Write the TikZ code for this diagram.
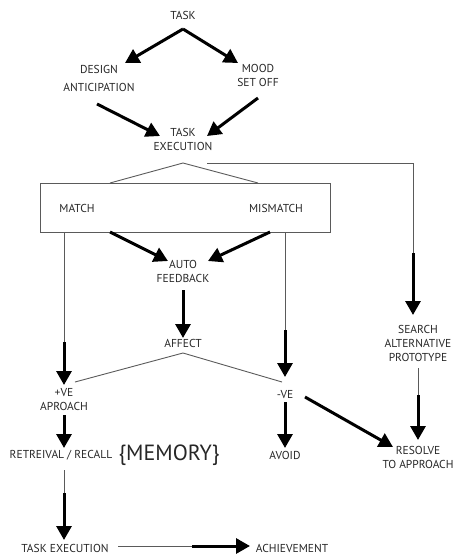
\documentclass[tikz,border=0pt]{standalone}
\usepackage{fontspec}
\setmainfont{PT Sans}
\usetikzlibrary{arrows.meta}
\definecolor{txt}{HTML}{262626}
\definecolor{ln}{HTML}{5a5a5a}
\begin{document}
\begin{tikzpicture}[x=1pt,y=-1pt,
 lbl/.style={font=\fontsize{11.5}{14}\selectfont, text=txt, align=center, inner sep=0pt},
 thinln/.style={draw=ln, line width=0.9pt},
 arr/.style={draw=black, line width=3pt, -{Triangle[length=14pt,width=15pt]}},
]
\useasboundingbox (0,0) rectangle (455,555);
% nodes
\node[lbl] (task) at (183,15) {TASK};
\node[lbl, font=\fontsize{11.5}{18}\selectfont] (design) at (99,78) {DESIGN\\ANTICIPATION};
\node[lbl] (mood) at (258,75) {MOOD\\SET OFF};
\node[lbl] (exec) at (183,139) {TASK\\EXECUTION};
\node[draw=ln, line width=0.9pt, minimum width=290pt, minimum height=49pt, inner sep=0pt] (box) at (185,207.5) {};
\node[lbl] (match) at (77,208) {MATCH};
\node[lbl] (mismatch) at (276,208) {MISMATCH};
\node[lbl] (auto) at (183,271) {AUTO\\FEEDBACK};
\node[lbl] (affect) at (183,343) {AFFECT};
\node[lbl] (pos) at (64,400) {+VE\\APROACH};
\node[lbl] (neg) at (285,395) {-VE};
\node[lbl] (recall) at (61,455) {RETREIVAL / RECALL};
\node[lbl, font=\fontsize{22}{22}\selectfont] (memory) at (169,455) {\{MEMORY\}};
\node[lbl] (avoid) at (285,455) {AVOID};
\node[lbl] (search) at (418,343) {SEARCH\\ALTERNATIVE\\PROTOTYPE};
\node[lbl] (resolve) at (418,457) {RESOLVE\\TO APPROACH};
\node[lbl] (exec2) at (65,548) {TASK EXECUTION};
\node[lbl] (ach) at (292,548) {ACHIEVEMENT};
% connector points
\coordinate (taskS) at (183,29);
\coordinate (designIn) at (125,63);
\coordinate (moodIn) at (238,63);
\coordinate (designOut) at (97,104);
\coordinate (moodOut) at (258,98);
\coordinate (execInL) at (160,136);
\coordinate (execInR) at (207,136);
\coordinate (apex) at (183,163);
\coordinate (boxTL) at (110,183);
\coordinate (boxTR) at (258,183);
\coordinate (execR) at (207,163);
\coordinate (corner) at (413,163);
\coordinate (sBreak) at (413,253);
\coordinate (searchIn) at (413,315);
\coordinate (matchOut) at (110,232);
\coordinate (mismatchOut) at (270,232);
\coordinate (autoInL) at (168,261);
\coordinate (autoInR) at (208,261);
\coordinate (autoOut) at (183,290);
\coordinate (affectIn) at (183,338);
\coordinate (affApex) at (183,353);
\coordinate (affL) at (75,382);
\coordinate (affR) at (282,382);
\coordinate (mDown) at (64,232);
\coordinate (mBreak) at (64,342);
\coordinate (posIn) at (64,385);
\coordinate (mmDown) at (285,232);
\coordinate (mmBreak) at (285,330);
\coordinate (negIn) at (285,377);
\coordinate (posOut) at (64,415);
\coordinate (recallIn) at (64,448);
\coordinate (negOut) at (285,402);
\coordinate (avoidIn) at (285,448);
\coordinate (negOutR) at (305,397);
\coordinate (resolveIn) at (393,447);
\coordinate (searchOut) at (418,368);
\coordinate (srBreak) at (418,395);
\coordinate (resolveTop) at (418,440);
\coordinate (recallOut) at (64,470);
\coordinate (rBreak) at (64,493);
\coordinate (exec2In) at (64,540);
\coordinate (exec2Out) at (118,546);
\coordinate (eBreak) at (192,546);
\coordinate (achIn) at (250,546);
% connectors
\draw[arr] (taskS) -- (designIn);
\draw[arr] (taskS) -- (moodIn);
\draw[arr] (designOut) -- (execInL);
\draw[arr] (moodOut) -- (execInR);
\draw[thinln] (boxTL) -- (apex) -- (boxTR);
\draw[thinln] (execR) -- (corner) -- (sBreak);
\draw[arr] (sBreak) -- (searchIn);
\draw[arr] (matchOut) -- (autoInL);
\draw[arr] (mismatchOut) -- (autoInR);
\draw[arr] (autoOut) -- (affectIn);
\draw[thinln] (affL) -- (affApex) -- (affR);
\draw[thinln] (mDown) -- (mBreak);
\draw[arr] (mBreak) -- (posIn);
\draw[thinln] (mmDown) -- (mmBreak);
\draw[arr] (mmBreak) -- (negIn);
\draw[arr] (posOut) -- (recallIn);
\draw[arr] (negOut) -- (avoidIn);
\draw[arr] (negOutR) -- (resolveIn);
\draw[thinln] (searchOut) -- (srBreak);
\draw[arr] (srBreak) -- (resolveTop);
\draw[thinln] (recallOut) -- (rBreak);
\draw[arr] (rBreak) -- (exec2In);
\draw[thinln] (exec2Out) -- (eBreak);
\draw[arr] (eBreak) -- (achIn);
\end{tikzpicture}
\end{document}
